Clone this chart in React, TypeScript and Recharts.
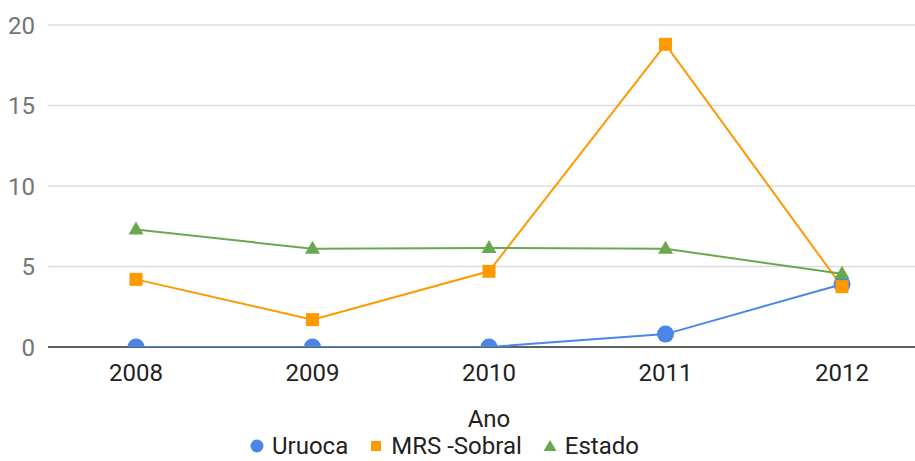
import React from 'react';
import { LineChart, Line, XAxis, YAxis, CartesianGrid, Legend } from 'recharts';

const years = ['2008', '2009', '2010', '2011', '2012'];
const uruoca = [0, 0, 0, 0.8, 3.9];
const mrsSobral = [4.2, 1.7, 4.7, 18.8, 3.75];
const estado = [7.3, 6.1, 6.15, 6.1, 4.55];
const yTicks = [0, 5, 10, 15, 20];

const seriesInfo = [
  { key: 'Uruoca', color: '#4a86e8', shape: 'circle' },
  { key: 'MRS -Sobral', color: '#ff9900', shape: 'square' },
  { key: 'Estado', color: '#6aa84f', shape: 'triangle' },
];

const data = years.map((y, i) => ({
  year: y,
  Uruoca: uruoca[i],
  'MRS -Sobral': mrsSobral[i],
  Estado: estado[i],
}));

const FONT = 'Roboto, "Noto Sans", sans-serif';

const CircleDot = (props: any) => {
  const { cx, cy } = props;
  if (cx == null || cy == null) return null;
  return <circle cx={cx} cy={cy} r={8.5} fill="#4a86e8" />;
};

const SquareDot = (props: any) => {
  const { cx, cy } = props;
  if (cx == null || cy == null) return null;
  return <rect x={cx - 6.5} y={cy - 6.5} width={13} height={13} fill="#ff9900" />;
};

const TriangleDot = (props: any) => {
  const { cx, cy } = props;
  if (cx == null || cy == null) return null;
  return (
    <polygon
      points={`${cx},${cy - 8} ${cx - 7.5},${cy + 5} ${cx + 7.5},${cy + 5}`}
      fill="#6aa84f"
    />
  );
};

const LegendIcon = ({ shape, color }: { shape: string; color: string }) => (
  <svg width={14} height={14} style={{ marginRight: 8, flex: 'none' }}>
    {shape === 'circle' && <circle cx={7} cy={7} r={6.5} fill={color} />}
    {shape === 'square' && <rect x={2} y={2} width={10} height={10} fill={color} />}
    {shape === 'triangle' && <polygon points="7,1 0.5,12 13.5,12" fill={color} />}
  </svg>
);

const renderLegend = () => (
  <div
    style={{
      height: 34,
      display: 'flex',
      alignItems: 'flex-start',
      paddingLeft: 250,
      paddingTop: 5,
      boxSizing: 'border-box',
      fontFamily: FONT,
      fontSize: 24,
      color: '#222',
      lineHeight: '28px',
    }}
  >
    {seriesInfo.map((s) => (
      <div
        key={s.key}
        style={{ display: 'flex', alignItems: 'center', height: 28, marginRight: 21 }}
      >
        <LegendIcon shape={s.shape} color={s.color} />
        <span>{s.key}</span>
      </div>
    ))}
  </div>
);

const zeroLine = ({ offset }: any) => [offset.top + offset.height];

export default function App() {
  return (
    <div
      style={{
        position: 'absolute',
        left: 0,
        top: 0,
        width: 915,
        height: 461,
        overflow: 'hidden',
        background: '#fff',
      }}
    >
      <LineChart
        width={930}
        height={461}
        data={data}
        margin={{ top: 25, right: 0, bottom: 0, left: 0 }}
      >
        <CartesianGrid vertical={false} stroke="#dcdcdc" strokeWidth={1.5} />
        <CartesianGrid
          vertical={false}
          stroke="#333"
          strokeWidth={1.5}
          horizontalCoordinatesGenerator={zeroLine}
        />
        <XAxis
          dataKey="year"
          padding={{ left: 88, right: 88 }}
          height={80}
          tickSize={0}
          tickMargin={17}
          axisLine={false}
          tick={{ fill: '#222', fontSize: 24, fontFamily: FONT }}
          label={{
            value: 'Ano',
            position: 'insideBottom',
            offset: 0,
            fill: '#222',
            fontSize: 24,
            fontFamily: FONT,
          }}
        />
        <YAxis
          width={48}
          domain={[0, 20]}
          ticks={yTicks}
          allowDataOverflow
          tickSize={0}
          tickMargin={13}
          axisLine={false}
          tick={{ fill: '#757575', fontSize: 24, fontFamily: FONT }}
        />
        <Legend verticalAlign="bottom" content={renderLegend} />
        <Line
          type="linear"
          dataKey="Uruoca"
          stroke="#4a86e8"
          strokeWidth={2}
          dot={<CircleDot />}
          activeDot={false}
          isAnimationActive={false}
        />
        <Line
          type="linear"
          dataKey="MRS -Sobral"
          stroke="#ff9900"
          strokeWidth={2}
          dot={<SquareDot />}
          activeDot={false}
          isAnimationActive={false}
        />
        <Line
          type="linear"
          dataKey="Estado"
          stroke="#6aa84f"
          strokeWidth={2}
          dot={<TriangleDot />}
          activeDot={false}
          isAnimationActive={false}
        />
      </LineChart>
    </div>
  );
}
